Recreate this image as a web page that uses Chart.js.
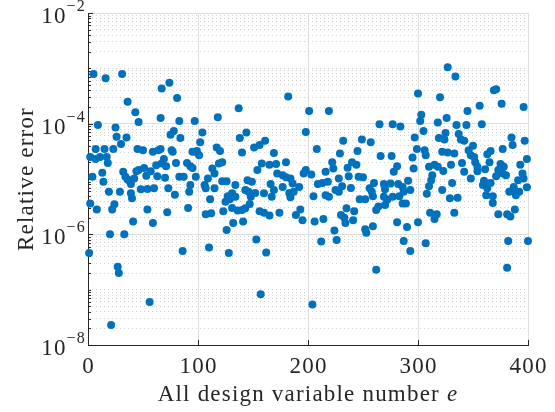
<!DOCTYPE html>
<html>
<head>
<meta charset="utf-8">
<script src="https://cdn.jsdelivr.net/npm/chart.js@4/dist/chart.umd.min.js"></script>
<style>
  html, body { margin: 0; padding: 0; background: #ffffff; }
  canvas { display: block; }
</style>
</head>
<body>
<canvas id="chart" width="555" height="412"></canvas>
<script>
// Design variable index e
const designVar = [
  1, 2, 2, 4, 5, 7, 7, 8, 9, 11, 13, 14, 15, 16, 17, 18, 19, 20, 21, 22,
  23, 24, 25, 26, 27, 28, 29, 30, 31, 32, 33, 34, 35, 36, 36, 38, 39, 39, 40, 41,
  42, 43, 44, 45, 46, 46, 48, 50, 51, 53, 54, 54, 56, 57, 59, 59, 60, 62, 63, 64,
  66, 66, 67, 67, 69, 70, 71, 72, 73, 74, 75, 76, 77, 78, 79, 80, 81, 83, 83, 84,
  86, 87, 90, 91, 92, 93, 93, 95, 95, 97, 98, 98, 99, 101, 102, 104, 106, 107, 107, 109,
  110, 111, 112, 113, 115, 115, 117, 118, 119, 120, 122, 122, 123, 125, 126, 126, 127, 128, 129, 131,
  131, 132, 134, 134, 136, 137, 138, 140, 140, 141, 143, 143, 144, 145, 146, 147, 148, 149, 151, 152,
  153, 154, 156, 156, 157, 158, 160, 160, 161, 162, 165, 165, 166, 167, 169, 169, 171, 172, 174, 177,
  177, 180, 180, 182, 183, 184, 184, 186, 187, 189, 192, 193, 195, 196, 198, 198, 201, 203, 204, 205,
  206, 208, 209, 212, 213, 214, 216, 216, 218, 219, 219, 222, 223, 224, 225, 226, 228, 228, 229, 230,
  231, 232, 233, 234, 235, 236, 237, 239, 240, 241, 242, 244, 245, 246, 247, 249, 250, 252, 252, 253,
  256, 257, 258, 259, 259, 260, 262, 262, 265, 264, 266, 269, 269, 270, 270, 272, 275, 276, 277, 277,
  278, 281, 281, 282, 283, 284, 286, 286, 287, 287, 289, 290, 291, 293, 293, 295, 296, 297, 299, 300,
  300, 302, 303, 305, 306, 307, 307, 308, 310, 310, 311, 312, 313, 315, 315, 317, 318, 318, 319, 320,
  322, 322, 323, 324, 325, 326, 327, 327, 329, 330, 331, 333, 333, 334, 335, 336, 337, 339, 340, 342,
  342, 344, 345, 346, 348, 348, 350, 351, 352, 354, 354, 356, 358, 359, 360, 361, 362, 363, 363, 365,
  366, 366, 368, 368, 369, 371, 371, 373, 373, 375, 376, 377, 377, 378, 380, 381, 381, 382, 383, 384,
  385, 386, 387, 387, 388, 389, 391, 392, 393, 395, 396, 396, 397, 399, 399, 400
];

// Relative error of each design variable
const relError = [
  4.6e-7, 2.5e-5, 3.6e-6, 1.1e-5, 7.9e-4, 3.5e-5, 2.3e-5, 2.8e-6, 9.5e-5, 2.5e-5, 1.3e-5, 8.9e-6, 3.5e-5, 6.6e-4, 2.5e-5, 1.95e-5, 5.9e-6, 1.0e-6, 2.3e-8, 2.8e-6,
  3.5e-5, 3.5e-6, 8.5e-5, 5.8e-5, 2.6e-7, 2.0e-7, 5.9e-6, 4.3e-5, 7.9e-4, 1.35e-5, 1.0e-6, 1.1e-5, 5.6e-5, 2.5e-4, 9.8e-6, 9.1e-6, 8.1e-6, 5.5e-6, 4.5e-6, 1.7e-6,
  1.02e-5, 1.6e-4, 1.38e-5, 3.5e-5, 1.07e-4, 1.45e-5, 6.5e-6, 3.3e-5, 1.58e-5, 1.15e-5, 6.6e-6, 2.8e-6, 6.0e-8, 1.38e-5, 3.1e-5, 1.6e-6, 6.8e-6, 1.78e-5, 1.12e-5, 3.3e-5,
  3.5e-5, 1.26e-4, 4.3e-4, 1.9e-5, 2.3e-5, 1.05e-5, 1.7e-5, 2.5e-6, 6.8e-6, 5.5e-4, 6.3e-5, 3.3e-5, 3.1e-5, 7.4e-5, 5.2e-6, 1.95e-5, 2.9e-4, 1.12e-4, 1.1e-5, 5.5e-5,
  5.0e-7, 1.1e-5, 1.95e-5, 3.0e-6, 5.9e-6, 1.7e-5, 7.8e-6, 3.1e-5, 1.58e-5, 1.12e-4, 3.1e-5, 1.1e-5, 3.2e-5, 2.7e-5, 4.6e-5, 6.9e-5, 7.8e-6, 6.8e-6, 2.3e-6, 1.02e-5,
  5.8e-7, 4.3e-6, 2.4e-6, 1.55e-5, 1.26e-5, 6.8e-6, 3.7e-5, 1.3e-4, 1.9e-5, 3.2e-5, 2.0e-5, 9.1e-6, 2.6e-6, 3.9e-6, 9.1e-6, 1.2e-6, 4.9e-6, 4.6e-7, 4.3e-6, 5.5e-6,
  3.0e-6, 1.6e-6, 7.8e-6, 4.8e-6, 2.7e-6, 1.9e-4, 5.5e-5, 3.0e-5, 2.75e-6, 1.7e-6, 6.3e-6, 2.95e-6, 6.9e-5, 9.5e-6, 5.9e-6, 3.55e-6, 4.8e-6, 8.9e-6, 3.7e-5, 5.6e-6,
  8.1e-7, 1.45e-5, 4.1e-5, 2.6e-6, 8.3e-8, 1.9e-5, 5.5e-6, 2.45e-6, 4.9e-5, 4.7e-7, 1.8e-5, 2.2e-6, 8.1e-6, 4.8e-6, 2.95e-5, 6.3e-6, 1.86e-5, 1.26e-5, 2.45e-6, 1.17e-5,
  7.2e-6, 2.0e-5, 1.07e-5, 3.1e-4, 5.6e-6, 1.02e-5, 4.7e-6, 8.3e-6, 5.9e-6, 2.24e-6, 7.2e-6, 2.8e-6, 1.8e-6, 1.26e-5, 7.1e-5, 1.45e-5, 1.7e-4, 1.2e-5, 5.4e-8, 4.9e-6,
  1.7e-6, 3.5e-5, 8.1e-6, 7.4e-7, 8.5e-6, 1.9e-6, 1.35e-5, 5.1e-6, 8.9e-6, 1.7e-4, 4.8e-6, 2.0e-5, 1.55e-5, 1.17e-6, 6.3e-6, 7.9e-7, 1.02e-5, 5.9e-6, 2.9e-5, 2.24e-6,
  7.4e-6, 4.9e-5, 2.0e-6, 1.6e-6, 2.95e-6, 1.6e-5, 1.12e-5, 6.9e-6, 2.0e-5, 1.8e-6, 2.6e-6, 1.8e-5, 3.2e-5, 1.1e-5, 4.3e-6, 5.2e-5, 1.07e-5, 4.3e-6, 1.23e-6, 1.07e-6,
  6.8e-6, 4.6e-5, 5.9e-6, 4.9e-6, 1.4e-6, 8.5e-6, 2.75e-6, 2.3e-7, 9.8e-5, 3.2e-6, 2.6e-5, 8.1e-6, 4.8e-6, 3.4e-6, 6.5e-6, 4.2e-6, 8.3e-6, 2.6e-5, 4.8e-6, 9.8e-5,
  1.35e-5, 1.7e-5, 1.66e-6, 8.1e-6, 4.9e-6, 8.9e-5, 7.2e-6, 3.6e-6, 5.9e-6, 7.6e-7, 3.6e-6, 1.35e-6, 9.3e-6, 6.3e-6, 5.0e-7, 2.45e-5, 1.55e-5, 5.6e-5, 3.5e-5, 1.66e-6,
  3.5e-4, 1.12e-4, 1.45e-4, 7.4e-5, 3.3e-5, 2.7e-5, 6.9e-7, 5.4e-6, 1.66e-5, 7.4e-6, 2.45e-6, 9.5e-6, 1.17e-5, 1.8e-5, 1.9e-6, 2.3e-6, 1.66e-5, 1.05e-4, 5.5e-5, 3.0e-4,
  3.1e-5, 6.3e-6, 1.4e-5, 5.2e-5, 6.8e-5, 1.26e-4, 1.05e-3, 3.0e-5, 4.5e-6, 1.8e-5, 8.5e-6, 2.9e-5, 2.45e-6, 7.1e-4, 9.5e-5, 4.6e-6, 6.5e-5, 5.2e-5, 1.95e-5, 4.9e-5,
  1.35e-5, 9.5e-5, 1.7e-4, 3.3e-5, 2.7e-5, 1.02e-5, 4.0e-5, 2.5e-5, 2.0e-5, 1.66e-5, 1.38e-5, 2.1e-4, 9.8e-5, 7.8e-6, 9.3e-6, 1.5e-5, 5.1e-6, 2.8e-5, 6.8e-6, 2.0e-5,
  3.2e-5, 8.5e-6, 4.9e-6, 3.7e-6, 4.0e-4, 4.2e-4, 1.12e-5, 1.45e-5, 2.3e-6, 1.86e-5, 2.3e-4, 3.5e-5, 1.26e-5, 1.66e-5, 1.17e-5, 2.3e-6, 2.5e-7, 7.6e-7, 5.9e-6, 2.1e-6,
  5.6e-5, 4.1e-5, 6.5e-6, 7.2e-6, 2.8e-6, 5.1e-6, 9.5e-6, 5.9e-6, 1.8e-5, 1.26e-5, 1.02e-5, 2.0e-4, 4.9e-5, 2.3e-5, 7.1e-6, 7.6e-7
];

// Axis ticks
const xTicks = [0, 100, 200, 300, 400];
const yLabelExponents = [-8, -6, -4, -2];
const xTitle = 'All design variable number ';
const xTitleVar = 'e';
const yTitle = 'Relative error';

const yMajorTicks = yLabelExponents.map(e => Math.pow(10, e));
const yMinorTicks = [];
for (let e = -8; e < -2; e++) {
  for (let m = 1; m <= 9; m++) {
    const v = m * Math.pow(10, e);
    if (!(m === 1 && yLabelExponents.includes(e))) yMinorTicks.push(v);
  }
}

const INK = '#262626';
const BLUE = '#0072BD';
const SERIF = '"Liberation Serif", "Times New Roman", serif';

// Inward tick marks on the left and bottom axes
const tickMarks = {
  id: 'tickMarks',
  beforeDatasetsDraw(chart) {
    const { ctx, chartArea: a, scales: { x, y } } = chart;
    ctx.save();
    ctx.strokeStyle = INK;
    ctx.lineWidth = 1;
    ctx.beginPath();
    for (const v of yMajorTicks) {
      const py = Math.round(y.getPixelForValue(v)) + 0.5;
      ctx.moveTo(a.left, py); ctx.lineTo(a.left + 5, py);
    }
    for (const v of yMinorTicks) {
      const py = Math.round(y.getPixelForValue(v)) + 0.5;
      ctx.moveTo(a.left, py); ctx.lineTo(a.left + 3, py);
    }
    for (const v of xTicks) {
      const px = Math.round(x.getPixelForValue(v)) + 0.5;
      ctx.moveTo(px, a.bottom); ctx.lineTo(px, a.bottom - 5);
    }
    ctx.stroke();
    ctx.restore();
  }
};

// Tick labels (with superscript powers) and axis titles
const axisText = {
  id: 'axisText',
  afterDraw(chart) {
    const { ctx, chartArea: a, scales: { x, y } } = chart;
    ctx.save();
    ctx.fillStyle = INK;
    ctx.letterSpacing = '1.2px';

    // y tick labels: 10^k
    ctx.textAlign = 'left';
    ctx.textBaseline = 'alphabetic';
    for (const e of yLabelExponents) {
      const py = y.getPixelForValue(Math.pow(10, e));
      const sup = '\u2212' + Math.abs(e);
      ctx.font = `16px ${SERIF}`;
      const sw = ctx.measureText(sup).width;
      ctx.font = `23px ${SERIF}`;
      const bw = ctx.measureText('10').width;
      const x0 = a.left - 2 - sw - bw;
      ctx.fillText('10', x0, py + 10);
      ctx.font = `16px ${SERIF}`;
      ctx.fillText(sup, x0 + bw, py - 2);
    }

    // x tick labels
    ctx.font = `23px ${SERIF}`;
    ctx.textAlign = 'center';
    for (const v of xTicks) {
      ctx.fillText(String(v), x.getPixelForValue(v) + 0.6, 373);
    }

    // x title with italic variable name
    ctx.textAlign = 'left';
    ctx.font = `23px ${SERIF}`;
    const w1 = ctx.measureText(xTitle).width;
    ctx.font = `italic 23px ${SERIF}`;
    const w2 = ctx.measureText(xTitleVar).width;
    const cx = (a.left + a.right) / 2;
    const start = cx - (w1 + w2) / 2;
    ctx.font = `23px ${SERIF}`;
    ctx.fillText(xTitle, start, 401);
    ctx.font = `italic 23px ${SERIF}`;
    ctx.fillText(xTitleVar, start + w1, 401);

    // y title
    ctx.font = `23px ${SERIF}`;
    ctx.translate(33, (a.top + a.bottom) / 2);
    ctx.rotate(-Math.PI / 2);
    ctx.textAlign = 'center';
    ctx.fillText(yTitle, 0, 0);
    ctx.restore();
  }
};

const points = designVar.map((e, i) => ({ x: e, y: relError[i] }));

new Chart(document.getElementById('chart'), {
  type: 'scatter',
  data: {
    datasets: [{
      data: points,
      pointRadius: 4,
      pointHoverRadius: 4,
      pointBackgroundColor: BLUE,
      pointBorderWidth: 0,
      clip: false
    }]
  },
  options: {
    responsive: false,
    animation: false,
    devicePixelRatio: 1,
    events: [],
    layout: { padding: { left: 0, right: 27, top: 13, bottom: 0 } },
    plugins: { legend: { display: false }, tooltip: { enabled: false } },
    scales: {
      x: {
        type: 'linear',
        min: 0,
        max: 400,
        afterBuildTicks: s => { s.ticks = xTicks.map(v => ({ value: v })); },
        ticks: { display: false },
        grid: { color: '#dedede', lineWidth: 1, drawTicks: false },
        border: { color: INK, width: 1 },
        afterFit: s => { s.height = 67; }
      },
      y: {
        type: 'logarithmic',
        position: 'left',
        min: 1e-8,
        max: 1e-2,
        afterBuildTicks: s => { s.ticks = yMajorTicks.map(v => ({ value: v })); },
        ticks: { display: false },
        grid: { color: '#dedede', lineWidth: 1, drawTicks: false },
        border: { color: INK, width: 1 },
        afterFit: s => { s.width = 88; }
      },
      yMinor: {
        type: 'logarithmic',
        position: 'left',
        min: 1e-8,
        max: 1e-2,
        afterBuildTicks: s => { s.ticks = yMinorTicks.map(v => ({ value: v })); },
        ticks: { display: false },
        grid: { color: '#d2d2d2', lineWidth: 1, drawTicks: false },
        border: { display: false, dash: [1, 3] },
        afterFit: s => { s.width = 0; }
      }
    }
  },
  plugins: [tickMarks, axisText]
});
</script>
</body>
</html>
